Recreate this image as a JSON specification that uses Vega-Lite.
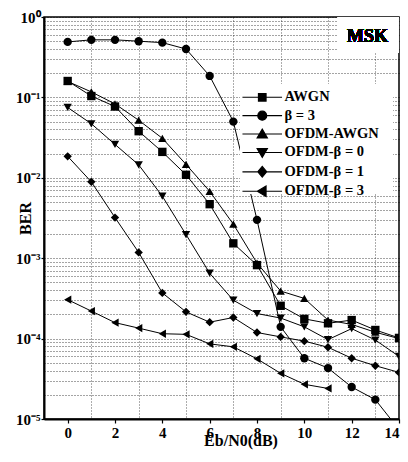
{
  "$schema": "https://vega.github.io/schema/vega-lite/v6.json",
  "autosize": "none",
  "width": 355,
  "height": 402,
  "padding": {"left": 44, "top": 17, "right": 9, "bottom": 43},
  "background": "white",
  "config": {
    "view": {"stroke": "black", "strokeWidth": 1.5},
    "font": "Liberation Serif",
    "axis": {"labelFont": "Liberation Serif", "titleFont": "Liberation Serif", "labelFontWeight": "bold", "titleFontWeight": "bold", "labelColor": "black", "titleColor": "black", "domainColor": "black", "domainWidth": 2, "tickColor": "black", "tickWidth": 1.2, "gridColor": "black", "gridDash": [1, 2], "gridWidth": 0.8, "gridOpacity": 0.9},
    "legend": {"labelFont": "Liberation Serif", "labelFontWeight": "bold", "labelColor": "black"}
  },
  "data": {"values": [
    {"x": 0, "ber": 0.16, "series": "AWGN"},
    {"x": 1, "ber": 0.104, "series": "AWGN"},
    {"x": 2, "ber": 0.077, "series": "AWGN"},
    {"x": 3, "ber": 0.038, "series": "AWGN"},
    {"x": 4, "ber": 0.021, "series": "AWGN"},
    {"x": 5, "ber": 0.0109, "series": "AWGN"},
    {"x": 6, "ber": 0.0047, "series": "AWGN"},
    {"x": 7, "ber": 0.00153, "series": "AWGN"},
    {"x": 8, "ber": 0.00082, "series": "AWGN"},
    {"x": 9, "ber": 0.000256, "series": "AWGN"},
    {"x": 10, "ber": 0.000176, "series": "AWGN"},
    {"x": 11, "ber": 0.000155, "series": "AWGN"},
    {"x": 12, "ber": 0.00017, "series": "AWGN"},
    {"x": 13, "ber": 0.000128, "series": "AWGN"},
    {"x": 14, "ber": 0.000102, "series": "AWGN"},
    {"x": 0, "ber": 0.49, "series": "β = 3"},
    {"x": 1, "ber": 0.52, "series": "β = 3"},
    {"x": 2, "ber": 0.52, "series": "β = 3"},
    {"x": 3, "ber": 0.5, "series": "β = 3"},
    {"x": 4, "ber": 0.48, "series": "β = 3"},
    {"x": 5, "ber": 0.4, "series": "β = 3"},
    {"x": 6, "ber": 0.185, "series": "β = 3"},
    {"x": 7, "ber": 0.05, "series": "β = 3"},
    {"x": 8, "ber": 0.003, "series": "β = 3"},
    {"x": 9, "ber": 0.00014, "series": "β = 3"},
    {"x": 10, "ber": 0.000057, "series": "β = 3"},
    {"x": 11, "ber": 0.000043, "series": "β = 3"},
    {"x": 12, "ber": 0.000025, "series": "β = 3"},
    {"x": 13, "ber": 0.0000174, "series": "β = 3"},
    {"x": 14, "ber": 0.0000074, "series": "β = 3"},
    {"x": 0, "ber": 0.158, "series": "OFDM-AWGN"},
    {"x": 1, "ber": 0.117, "series": "OFDM-AWGN"},
    {"x": 2, "ber": 0.083, "series": "OFDM-AWGN"},
    {"x": 3, "ber": 0.052, "series": "OFDM-AWGN"},
    {"x": 4, "ber": 0.031, "series": "OFDM-AWGN"},
    {"x": 5, "ber": 0.0147, "series": "OFDM-AWGN"},
    {"x": 6, "ber": 0.0068, "series": "OFDM-AWGN"},
    {"x": 7, "ber": 0.00265, "series": "OFDM-AWGN"},
    {"x": 8, "ber": 0.00087, "series": "OFDM-AWGN"},
    {"x": 9, "ber": 0.00039, "series": "OFDM-AWGN"},
    {"x": 10, "ber": 0.000316, "series": "OFDM-AWGN"},
    {"x": 11, "ber": 0.00017, "series": "OFDM-AWGN"},
    {"x": 12, "ber": 0.00015, "series": "OFDM-AWGN"},
    {"x": 13, "ber": 0.00012, "series": "OFDM-AWGN"},
    {"x": 14, "ber": 0.0001, "series": "OFDM-AWGN"},
    {"x": 0, "ber": 0.075, "series": "OFDM-β = 0"},
    {"x": 1, "ber": 0.047, "series": "OFDM-β = 0"},
    {"x": 2, "ber": 0.026, "series": "OFDM-β = 0"},
    {"x": 3, "ber": 0.0145, "series": "OFDM-β = 0"},
    {"x": 4, "ber": 0.0059, "series": "OFDM-β = 0"},
    {"x": 5, "ber": 0.00197, "series": "OFDM-β = 0"},
    {"x": 6, "ber": 0.00065, "series": "OFDM-β = 0"},
    {"x": 7, "ber": 0.0003, "series": "OFDM-β = 0"},
    {"x": 8, "ber": 0.000205, "series": "OFDM-β = 0"},
    {"x": 9, "ber": 0.00018, "series": "OFDM-β = 0"},
    {"x": 10, "ber": 0.00014, "series": "OFDM-β = 0"},
    {"x": 11, "ber": 0.000097, "series": "OFDM-β = 0"},
    {"x": 12, "ber": 0.000133, "series": "OFDM-β = 0"},
    {"x": 13, "ber": 0.000096, "series": "OFDM-β = 0"},
    {"x": 14, "ber": 0.00006, "series": "OFDM-β = 0"},
    {"x": 0, "ber": 0.0185, "series": "OFDM-β = 1"},
    {"x": 1, "ber": 0.0089, "series": "OFDM-β = 1"},
    {"x": 2, "ber": 0.0032, "series": "OFDM-β = 1"},
    {"x": 3, "ber": 0.00118, "series": "OFDM-β = 1"},
    {"x": 4, "ber": 0.00037, "series": "OFDM-β = 1"},
    {"x": 5, "ber": 0.000215, "series": "OFDM-β = 1"},
    {"x": 6, "ber": 0.00016, "series": "OFDM-β = 1"},
    {"x": 7, "ber": 0.000183, "series": "OFDM-β = 1"},
    {"x": 8, "ber": 0.000119, "series": "OFDM-β = 1"},
    {"x": 9, "ber": 0.000105, "series": "OFDM-β = 1"},
    {"x": 10, "ber": 0.000093, "series": "OFDM-β = 1"},
    {"x": 11, "ber": 0.000078, "series": "OFDM-β = 1"},
    {"x": 12, "ber": 0.000057, "series": "OFDM-β = 1"},
    {"x": 13, "ber": 0.000046, "series": "OFDM-β = 1"},
    {"x": 14, "ber": 0.000038, "series": "OFDM-β = 1"},
    {"x": 0, "ber": 0.000305, "series": "OFDM-β = 3"},
    {"x": 1, "ber": 0.00022, "series": "OFDM-β = 3"},
    {"x": 2, "ber": 0.000158, "series": "OFDM-β = 3"},
    {"x": 3, "ber": 0.000135, "series": "OFDM-β = 3"},
    {"x": 4, "ber": 0.000115, "series": "OFDM-β = 3"},
    {"x": 5, "ber": 0.000113, "series": "OFDM-β = 3"},
    {"x": 6, "ber": 0.000086, "series": "OFDM-β = 3"},
    {"x": 7, "ber": 0.000079, "series": "OFDM-β = 3"},
    {"x": 8, "ber": 0.000056, "series": "OFDM-β = 3"},
    {"x": 9, "ber": 0.000037, "series": "OFDM-β = 3"},
    {"x": 10, "ber": 0.000027, "series": "OFDM-β = 3"},
    {"x": 11, "ber": 0.000024, "series": "OFDM-β = 3"}
  ]},
  "encoding": {
    "x": {
      "field": "x", "type": "quantitative",
      "scale": {"domain": [-1, 14], "nice": false, "zero": false},
      "axis": {
        "values": [0, 1, 2, 3, 4, 5, 6, 7, 8, 9, 10, 11, 12, 13, 14],
        "labelExpr": "datum.value % 2 == 0 ? datum.label : ''",
        "labelFontSize": 15, "labelPadding": 2,
        "tickSize": {"condition": {"test": "datum.value % 2 == 0", "value": 4}, "value": 0},
        "gridOpacity": {"condition": {"test": "datum.value % 2 == 1", "value": 0.9}, "value": 0},
        "title": "Eb/N0(dB)", "titleFontSize": 16,
        "titleX": 196.5, "titleY": 26, "titleAlign": "center", "titleBaseline": "alphabetic"
      }
    },
    "y": {
      "field": "ber", "type": "quantitative",
      "scale": {"type": "log", "domain": [0.00001, 1], "nice": false},
      "axis": {
        "values": [0.00001, 0.00002, 0.00003, 0.00004, 0.00005, 0.00006, 0.00007, 0.00008, 0.00009, 0.0001, 0.0002, 0.0003, 0.0004, 0.0005, 0.0006, 0.0007, 0.0008, 0.0009, 0.001, 0.002, 0.003, 0.004, 0.005, 0.006, 0.007, 0.008, 0.009, 0.01, 0.02, 0.03, 0.04, 0.05, 0.06, 0.07, 0.08, 0.09, 0.1, 0.2, 0.3, 0.4, 0.5, 0.6, 0.7, 0.8, 0.9, 1],
        "labelExpr": "abs(log(datum.value)/LN10 - round(log(datum.value)/LN10)) < 0.001 ? '10' + ['⁰','⁻¹','⁻²','⁻³','⁻⁴','⁻⁵'][abs(round(log(datum.value)/LN10))] : ''",
        "labelFontSize": 15, "labelPadding": 1,
        "tickSize": {"condition": {"test": "abs(log(datum.value)/LN10 - round(log(datum.value)/LN10)) < 0.001", "value": 3}, "value": 0},
        "title": "BER", "titleFontSize": 16, "titleAngle": 270,
        "titleX": -19, "titleY": 201, "titleAlign": "center", "titleBaseline": "middle"
      }
    }
  },
  "layer": [
    {
      "mark": {"type": "rect", "fill": "white", "stroke": null},
      "encoding": {
        "x": {"datum": 11.42},
        "x2": {"datum": 13.97},
        "y": {"datum": 0.995},
        "y2": {"datum": 0.356}
      }
    },
    {
      "mark": {"type": "text", "text": "MSK", "font": "Liberation Serif", "fontWeight": "bold", "fontSize": 18, "color": "black", "align": "center", "baseline": "middle"},
      "encoding": {
        "x": {"datum": 12.67},
        "y": {"datum": 0.556}
      }
    },
    {
      "mark": {"type": "line", "strokeWidth": 1, "clip": true},
      "encoding": {
        "color": {
          "field": "series", "type": "nominal",
          "scale": {
            "domain": ["AWGN", "β = 3", "OFDM-AWGN", "OFDM-β = 0", "OFDM-β = 1", "OFDM-β = 3"],
            "range": ["black", "black", "black", "black", "black", "black"]
          },
          "legend": {
            "orient": "none", "legendX": 206, "legendY": 68, "title": null,
            "symbolSize": 81, "symbolOpacity": 1, "symbolStrokeWidth": 1.1,
            "labelFontSize": 14.5, "labelOffset": 15, "rowPadding": 3.4, "padding": 5,
            "encoding": {
              "symbols": {
                "fill": {"value": "black"},
                "shape": {"value": {"expr": "datum.value == 'AWGN' ? 'M-4.4,0H4.4M-0.85,-0.85H0.85V0.85H-0.85Z' : datum.value == 'β = 3' ? 'M-4.4,0H4.4M-1,0A1,1,0,1,0,1,0A1,1,0,1,0,-1,0Z' : datum.value == 'OFDM-AWGN' ? 'M-4.4,0H4.4M0,-1.1L1.15,0.85H-1.15Z' : datum.value == 'OFDM-β = 0' ? 'M-4.4,0H4.4M0,1.1L1.15,-0.85H-1.15Z' : datum.value == 'OFDM-β = 1' ? 'M-4.4,0H4.4M0,-1.2L1,0L0,1.2L-1,0Z' : 'M-4.4,0H4.4M-1.1,0L0.85,-1.15V1.15Z'"}}
              }
            }
          }
        }
      }
    },
    {
      "mark": {"type": "point", "filled": true, "color": "black", "opacity": 1, "size": 70, "clip": true},
      "encoding": {
        "shape": {
          "field": "series", "type": "nominal",
          "sort": ["AWGN", "β = 3", "OFDM-AWGN", "OFDM-β = 0", "OFDM-β = 1", "OFDM-β = 3"],
          "scale": {
            "range": ["square", "circle", "triangle-up", "triangle-down", "diamond", "triangle-left"]
          },
          "legend": null
        }
      }
    },
    {
      "mark": {"type": "rect", "fill": "white", "stroke": null},
      "encoding": {
        "x": {"datum": 7.29},
        "x2": {"datum": 13.74},
        "y": {"datum": 0.1465},
        "y2": {"datum": 0.0063}
      }
    }
  ]
}
